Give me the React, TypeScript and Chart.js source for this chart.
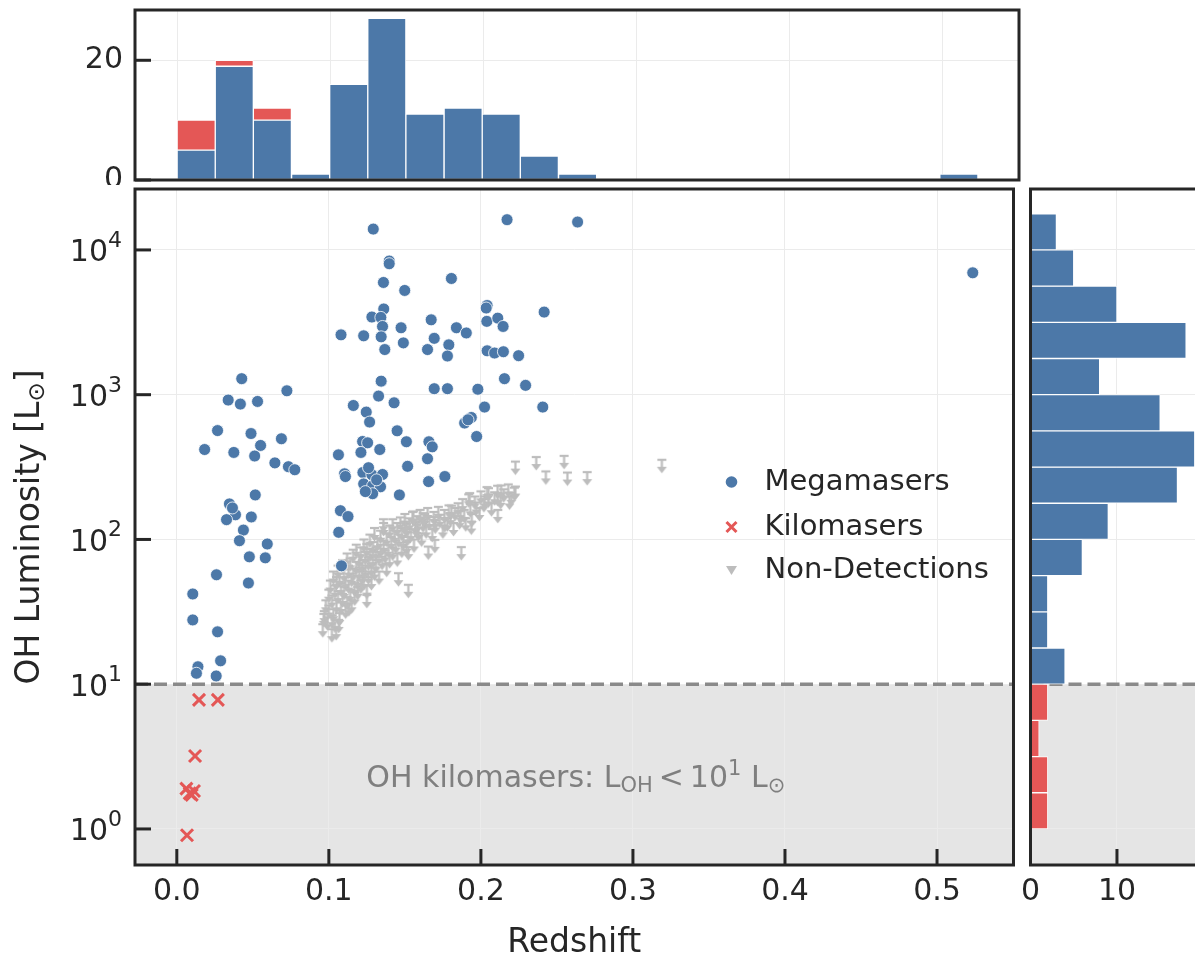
import React, { useEffect, useRef } from 'react';
import { Chart, registerables } from 'chart.js';

Chart.register(...registerables);

// ---------- style constants ----------
const FONT = '"DejaVu Sans", "Noto Sans", sans-serif';
const INK = '#262626';
const BLUE = '#4c78a8';
const RED = '#e45756';
const GRAY = '#bdbdbd';
const GRID = '#ebebeb';
const SHADE = '#e5e5e5';
const DASH = '#8a8a8a';
const NOTE = '#7f7f7f';

// ---------- axis ranges / ticks ----------
const Z_MIN = -0.0275;
const Z_MAX = 0.5503;
const L_MIN = 0.5636;
const L_MAX = 26360;
const LOG_MIN = -0.249;
const LOG_MAX = 4.421;
const TOP_MAX = 28.4;
const RIGHT_MAX = 19.95;
const KILO_LIMIT = 10;
const KILO_LIMIT_LOG = 1;

const lumTicks = [1, 10, 100, 1000, 10000];
const lumTickBase = '10';
const lumTickExps = ['0', '1', '2', '3', '4'];
const logGridTicks = [0, 1, 2, 3, 4];
const topCountTicks = [0, 20];
const rightCountTicks = [0, 10];

const legendLabels = ['Megamasers', 'Kilomasers', 'Non-Detections'];
const ANNOT_Z = 0.2624;
const ANNOT_L = 1.95;

// ---------- scatter data ----------
const megaZ = [
  0.1292, 0.2172, 0.2636, 0.1397, 0.1397, 0.1359, 0.1806, 0.1499, 0.2041, 0.2035,
  0.2416, 0.1361, 0.1283, 0.1342, 0.1353, 0.1475, 0.1673, 0.2039, 0.2111, 0.2146,
  0.1080, 0.1229, 0.1344, 0.1839, 0.1904, 0.1693, 0.1490, 0.1368, 0.1649, 0.1789,
  0.1780, 0.2041, 0.2090, 0.2148, 0.2248, 0.2155, 0.2294, 0.1344, 0.1693, 0.1780,
  0.1980, 0.1327, 0.1429, 0.1161, 0.2024, 0.2407, 0.1246, 0.1268, 0.1937, 0.1893,
  0.1915, 0.1972, 0.1449, 0.1510, 0.1222, 0.1255, 0.1658, 0.1680, 0.1649, 0.1063,
  0.1211, 0.1335, 0.1518, 0.1103, 0.1109, 0.1224, 0.1283, 0.1353, 0.1656, 0.1763,
  0.1229, 0.1288, 0.1340, 0.1288, 0.1240, 0.1464, 0.1314, 0.1261, 0.1076, 0.1126,
  0.1065, 0.1083, 0.5235, 0.0427, 0.0338, 0.0418, 0.0531, 0.0724, 0.0268, 0.0488,
  0.0688, 0.0183, 0.0375, 0.0551, 0.0512, 0.0645, 0.0734, 0.0776, 0.0516, 0.0346,
  0.0386, 0.0327, 0.0490, 0.0438, 0.0595, 0.0477, 0.0582, 0.0261, 0.0471, 0.0105,
  0.0105, 0.0268, 0.0139, 0.0129, 0.0288, 0.0259, 0.0366, 0.0412,
];
const megaL = [
  13930, 16180, 15590, 8380, 8030, 5960, 6350, 5250, 4130, 3970,
  3720, 3910, 3440, 3420, 2960, 2900, 3290, 3210, 3380, 2960,
  2590, 2550, 2510, 2900, 2670, 2450, 2280, 2050, 2050, 2210,
  1850, 2010, 1940, 1980, 1860, 1290, 1160, 1240, 1100, 1100,
  1090, 978, 879, 842, 821, 821, 758, 647, 696, 637,
  671, 514, 563, 473, 475, 465, 473, 436, 361, 384,
  399, 418, 320, 284, 272, 290, 280, 281, 251, 272,
  242, 235, 231, 207, 214, 203, 258, 313, 158, 144,
  112, 65.7, 6950, 1290, 918, 861, 898, 1064, 565, 539,
  496, 418, 399, 446, 377, 338, 318, 303, 203, 176,
  148, 137, 143, 116, 93, 75.8, 74.6, 57, 50, 42,
  27.8, 23, 13.2, 11.9, 14.5, 11.4, 165, 98,
];

const kiloZ = [0.0146, 0.0270, 0.0120, 0.0063, 0.0113, 0.0085, 0.0098, 0.0067];
const kiloL = [7.79, 7.79, 3.19, 1.90, 1.83, 1.76, 1.72, 0.905];

const ndZ = [
  0.096, 0.097, 0.098, 0.099, 0.100, 0.100, 0.101, 0.102, 0.102, 0.103,
  0.103, 0.104, 0.104, 0.105, 0.105, 0.106, 0.106, 0.107, 0.107, 0.108,
  0.108, 0.109, 0.109, 0.110, 0.110, 0.111, 0.111, 0.112, 0.112, 0.113,
  0.113, 0.114, 0.114, 0.115, 0.115, 0.116, 0.116, 0.117, 0.117, 0.118,
  0.118, 0.119, 0.119, 0.120, 0.120, 0.121, 0.121, 0.122, 0.122, 0.123,
  0.123, 0.124, 0.124, 0.125, 0.125, 0.126, 0.126, 0.127, 0.127, 0.128,
  0.128, 0.129, 0.129, 0.130, 0.130, 0.131, 0.131, 0.132, 0.133, 0.133,
  0.134, 0.134, 0.135, 0.136, 0.136, 0.137, 0.138, 0.138, 0.139, 0.140,
  0.140, 0.141, 0.142, 0.142, 0.143, 0.144, 0.145, 0.145, 0.146, 0.147,
  0.148, 0.148, 0.149, 0.150, 0.151, 0.151, 0.152, 0.153, 0.154, 0.155,
  0.156, 0.157, 0.158, 0.159, 0.160, 0.161, 0.162, 0.163, 0.164, 0.165,
  0.166, 0.168, 0.169, 0.170, 0.172, 0.173, 0.175, 0.176, 0.178, 0.179,
  0.180, 0.182, 0.183, 0.185, 0.186, 0.188, 0.189, 0.190, 0.192, 0.193,
  0.194, 0.196, 0.197, 0.199, 0.200, 0.202, 0.204, 0.205, 0.207, 0.209,
  0.211, 0.213, 0.215, 0.218, 0.220, 0.222, 0.0967, 0.1022, 0.1065, 0.1048,
  0.1131, 0.1250, 0.1458, 0.1523, 0.1654, 0.1697, 0.1523, 0.1871, 0.2111, 0.1937,
  0.1763, 0.1867, 0.1806, 0.2024, 0.1926, 0.2111, 0.2188, 0.2050, 0.2133, 0.2227,
  0.1359, 0.1501, 0.1577, 0.1556, 0.1621, 0.1697, 0.2227, 0.2364, 0.2427, 0.2547,
  0.2569, 0.2699, 0.3190,
];
const ndL = [
  26, 32, 38, 29, 45, 35, 52, 24, 41, 60,
  33, 48, 28, 38, 55, 66, 44, 31, 58, 50,
  37, 72, 42, 62, 47, 35, 55, 80, 40, 66,
  52, 45, 74, 58, 38, 85, 63, 50, 43, 70,
  92, 56, 47, 78, 64, 52, 88, 60, 72, 100,
  55, 82, 66, 48, 93, 75, 60, 108, 86, 68,
  55, 96, 78, 120, 64, 88, 72, 102, 82, 60,
  115, 92, 76, 130, 98, 84, 110, 68, 92, 125,
  78, 104, 138, 88, 115, 98, 130, 80, 108, 142,
  120, 92, 104, 150, 128, 96, 112, 140, 118, 155,
  100, 132, 145, 120, 160, 110, 138, 150, 125, 165,
  143, 118, 155, 135, 168, 148, 125, 160, 140, 172,
  152, 130, 165, 178, 145, 190, 160, 140, 205, 175,
  150, 198, 180, 165, 215, 190, 230, 205, 178, 212,
  235, 200, 222, 240, 210, 228, 30.6, 30, 27.8, 24.8,
  36.3, 41.4, 58.5, 48.6, 89.3, 99.4, 88.5, 88.5, 160, 133,
  138, 158, 171, 198, 209, 209, 198, 226, 236, 232,
  138, 133, 126, 156, 152, 143, 345, 371, 295, 378,
  290, 292, 355,
];

// ---------- histogram data ----------
const zBinCenters = [
  0.0125, 0.0374, 0.0623, 0.0873, 0.1122, 0.1371, 0.1620, 0.1870, 0.2119, 0.2368,
  0.2618, 0.2867, 0.3116, 0.3365, 0.3615, 0.3864, 0.4113, 0.4363, 0.4612, 0.4861, 0.5110,
];
const topMegaCounts = [5, 19, 10, 1, 16, 27, 11, 12, 11, 4, 1, 0, 0, 0, 0, 0, 0, 0, 0, 0, 1];
const topKiloCounts = [5, 1, 2, 0, 0, 0, 0, 0, 0, 0, 0, 0, 0, 0, 0, 0, 0, 0, 0, 0, 0];

const logLBinCenters = [
  0.125, 0.375, 0.625, 0.875, 1.125, 1.375, 1.625, 1.875, 2.125,
  2.375, 2.625, 2.875, 3.125, 3.375, 3.625, 3.875, 4.125,
];
const rightMegaCounts = [0, 0, 0, 0, 4, 2, 2, 6, 9, 17, 19, 15, 8, 18, 10, 5, 3];
const rightKiloCounts = [2, 2, 1, 2, 0, 0, 0, 0, 0, 0, 0, 0, 0, 0, 0, 0, 0];

// ---------- helpers ----------
function fixSize(prop: 'width' | 'height', v: number) {
  return (s: any) => {
    s[prop] = v;
    s.paddingLeft = 0;
    s.paddingRight = 0;
    s.paddingTop = 0;
    s.paddingBottom = 0;
  };
}

function fixedTicks(values: number[]) {
  return (s: any) => {
    s.ticks = values.map((v) => ({ value: v }));
  };
}

// ---------- plugins ----------
const framePlugin = {
  id: 'frame',
  afterDraw(chart: any) {
    const { ctx, chartArea: a } = chart;
    ctx.save();
    ctx.strokeStyle = INK;
    ctx.lineWidth = 3;
    ctx.strokeRect(a.left, a.top, a.right - a.left, a.bottom - a.top);
    ctx.restore();
  },
};

const inTicksPlugin = {
  id: 'inTicks',
  afterDraw(chart: any, _args: any, opts: any) {
    const { ctx, chartArea: a } = chart;
    ctx.save();
    ctx.strokeStyle = INK;
    ctx.lineWidth = 3;
    const axes: string[] = opts && opts.axes ? opts.axes : [];
    for (const id of axes) {
      const s = chart.scales[id];
      for (const t of s.ticks) {
        const p = s.getPixelForValue(t.value);
        ctx.beginPath();
        if (s.isHorizontal()) {
          ctx.moveTo(p, a.bottom);
          ctx.lineTo(p, a.bottom - 16);
        } else {
          ctx.moveTo(a.left, p);
          ctx.lineTo(a.left + 16, p);
        }
        ctx.stroke();
      }
    }
    ctx.restore();
  },
};

const shadePlugin = {
  id: 'kiloShade',
  beforeDraw(chart: any, _args: any, opts: any) {
    const { ctx, chartArea: a } = chart;
    const y = chart.scales.y.getPixelForValue(opts.value);
    ctx.save();
    ctx.fillStyle = SHADE;
    ctx.fillRect(a.left, y, a.right - a.left, a.bottom - y);
    ctx.restore();
  },
  beforeDatasetsDraw(chart: any, _args: any, opts: any) {
    const { ctx, chartArea: a } = chart;
    const y = chart.scales.y.getPixelForValue(opts.value);
    ctx.save();
    ctx.strokeStyle = DASH;
    ctx.lineWidth = 3.5;
    ctx.setLineDash([13, 6]);
    ctx.beginPath();
    ctx.moveTo(a.left, y);
    ctx.lineTo(a.right, y);
    ctx.stroke();
    ctx.restore();
  },
};

type Seg = { t: string; s: number; dy: number };

function drawSegments(ctx: CanvasRenderingContext2D, segs: Seg[], xStart: number, baseY: number) {
  let x = xStart;
  for (const sg of segs) {
    ctx.font = `${sg.s}px ${FONT}`;
    ctx.fillText(sg.t, x, baseY + sg.dy);
    x += ctx.measureText(sg.t).width;
  }
}
function segWidth(ctx: CanvasRenderingContext2D, segs: Seg[]) {
  let w = 0;
  for (const sg of segs) {
    ctx.font = `${sg.s}px ${FONT}`;
    w += ctx.measureText(sg.t).width;
  }
  return w;
}

// y tick labels of the log axis, drawn as 10 with a raised exponent
const expLabelsPlugin = {
  id: 'expLabels',
  afterDraw(chart: any) {
    const { ctx, chartArea: a } = chart;
    const s = chart.scales.y;
    ctx.save();
    ctx.fillStyle = INK;
    ctx.textAlign = 'left';
    ctx.textBaseline = 'alphabetic';
    s.ticks.forEach((t: any, i: number) => {
      const y = s.getPixelForValue(t.value);
      const segs: Seg[] = [
        { t: lumTickBase, s: 30, dy: 0 },
        { t: lumTickExps[i], s: 22, dy: -14.5 },
      ];
      const w = segWidth(ctx, segs) + 1;
      drawSegments(ctx, segs, a.left - 12 - w, y + 11.5);
    });
    ctx.restore();
  },
};

const mainDecorPlugin = {
  id: 'mainDecor',
  afterDatasetsDraw(chart: any) {
    const { ctx, chartArea: a, scales } = chart;
    ctx.save();
    // annotation in kilomaser band
    const segs: Seg[] = [
      { t: 'OH kilomasers: L', s: 30, dy: 0 },
      { t: 'OH', s: 21, dy: 5 },
      { t: '\u2009<\u200910', s: 30, dy: 0 },
      { t: '1', s: 21, dy: -12 },
      { t: ' L', s: 30, dy: 0 },
      { t: '\u2299', s: 21, dy: 5 },
    ];
    ctx.fillStyle = NOTE;
    ctx.textBaseline = 'alphabetic';
    ctx.textAlign = 'left';
    const w = segWidth(ctx, segs);
    const cx = scales.x.getPixelForValue(ANNOT_Z);
    const by = scales.y.getPixelForValue(ANNOT_L);
    drawSegments(ctx, segs, cx - w / 2, by);

    // legend
    const mx = a.right - 282;
    const tx = a.right - 249;
    const cy = (a.top + a.bottom) / 2;
    const rows = [cy - 45, cy, cy + 43];
    ctx.fillStyle = BLUE;
    ctx.beginPath();
    ctx.arc(mx, rows[0], 5.8, 0, Math.PI * 2);
    ctx.fill();
    ctx.strokeStyle = RED;
    ctx.lineWidth = 3;
    ctx.beginPath();
    ctx.moveTo(mx - 5, rows[1] - 5);
    ctx.lineTo(mx + 5, rows[1] + 5);
    ctx.moveTo(mx - 5, rows[1] + 5);
    ctx.lineTo(mx + 5, rows[1] - 5);
    ctx.stroke();
    ctx.fillStyle = GRAY;
    ctx.beginPath();
    ctx.moveTo(mx - 5.5, rows[2] - 4);
    ctx.lineTo(mx + 5.5, rows[2] - 4);
    ctx.lineTo(mx, rows[2] + 5);
    ctx.closePath();
    ctx.fill();
    ctx.fillStyle = INK;
    ctx.font = `29px ${FONT}`;
    ctx.textBaseline = 'middle';
    legendLabels.forEach((lab, i) => ctx.fillText(lab, tx, rows[i]));
    ctx.restore();
  },
  afterDraw(chart: any) {
    const { ctx, chartArea: a } = chart;
    ctx.save();
    ctx.fillStyle = INK;
    ctx.font = `33px ${FONT}`;
    ctx.textAlign = 'center';
    ctx.textBaseline = 'alphabetic';
    ctx.fillText('Redshift', (a.left + a.right) / 2, 952);
    const segs: Seg[] = [
      { t: 'OH Luminosity [L', s: 33, dy: 0 },
      { t: '\u2299', s: 23, dy: 5 },
      { t: ']', s: 33, dy: 0 },
    ];
    ctx.textAlign = 'left';
    const w = segWidth(ctx, segs);
    ctx.translate(39, (a.top + a.bottom) / 2);
    ctx.rotate(-Math.PI / 2);
    drawSegments(ctx, segs, -w / 2, 0);
    ctx.restore();
  },
};

function makeArrow(): HTMLCanvasElement {
  const c = document.createElement('canvas');
  c.width = 13;
  c.height = 34;
  const g = c.getContext('2d')!;
  g.strokeStyle = GRAY;
  g.fillStyle = GRAY;
  g.lineWidth = 2.2;
  g.beginPath();
  g.moveTo(2, 17);
  g.lineTo(11, 17);
  g.stroke();
  g.beginPath();
  g.moveTo(6.5, 17);
  g.lineTo(6.5, 26);
  g.stroke();
  g.beginPath();
  g.moveTo(1.5, 24);
  g.lineTo(11.5, 24);
  g.lineTo(6.5, 30.5);
  g.closePath();
  g.fill();
  return c;
}

const tickFont = { family: FONT, size: 30 };
const barStyle = {
  borderColor: 'rgba(255,255,255,0.85)',
  borderWidth: 1,
  borderSkipped: false,
  barPercentage: 1,
  categoryPercentage: 1,
};

function topConfig(): any {
  return {
    type: 'bar',
    data: {
      datasets: [
        { label: 'Megamasers', data: zBinCenters.map((c, i) => ({ x: c, y: topMegaCounts[i] })), backgroundColor: BLUE, ...barStyle },
        { label: 'Kilomasers', data: zBinCenters.map((c, i) => ({ x: c, y: topKiloCounts[i] })), backgroundColor: RED, ...barStyle },
      ],
    },
    options: {
      responsive: false,
      animation: false,
      devicePixelRatio: 1,
      events: [],
      layout: { padding: { top: 10, right: 6, left: 0, bottom: 0 } },
      plugins: { legend: { display: false }, tooltip: { enabled: false }, inTicks: { axes: ['y'] } },
      scales: {
        x: {
          type: 'linear',
          min: Z_MIN,
          max: Z_MAX,
          stacked: true,
          offset: false,
          ticks: { display: false, stepSize: 0.1, includeBounds: false },
          grid: { color: GRID, drawTicks: false, offset: false },
          border: { display: false },
          afterFit: fixSize('height', 5),
        },
        y: {
          type: 'linear',
          min: 0,
          max: TOP_MAX,
          stacked: true,
          afterBuildTicks: fixedTicks(topCountTicks),
          ticks: { font: tickFont, color: INK, padding: 12 },
          grid: { color: GRID, drawTicks: false },
          border: { display: false },
          afterFit: fixSize('width', 135),
        },
      },
    },
    plugins: [framePlugin, inTicksPlugin],
  };
}

function mainConfig(arrow: HTMLCanvasElement): any {
  return {
    type: 'scatter',
    data: {
      datasets: [
        {
          label: legendLabels[0],
          data: megaZ.map((z, i) => ({ x: z, y: megaL[i] })),
          pointStyle: 'circle',
          pointRadius: 6,
          backgroundColor: BLUE,
          borderColor: '#ffffff',
          borderWidth: 0.8,
        },
        {
          label: legendLabels[1],
          data: kiloZ.map((z, i) => ({ x: z, y: kiloL[i] })),
          pointStyle: 'crossRot',
          pointRadius: 8.5,
          backgroundColor: RED,
          borderColor: RED,
          borderWidth: 3,
        },
        {
          label: legendLabels[2],
          data: ndZ.map((z, i) => ({ x: z, y: ndL[i] })),
          pointStyle: arrow,
          pointRadius: 6,
        },
      ],
    },
    options: {
      responsive: false,
      animation: false,
      devicePixelRatio: 1,
      events: [],
      layout: { padding: { top: 189, right: 6, left: 0, bottom: 0 } },
      plugins: {
        legend: { display: false },
        tooltip: { enabled: false },
        inTicks: { axes: ['x', 'y'] },
        kiloShade: { value: KILO_LIMIT },
      },
      scales: {
        x: {
          type: 'linear',
          min: Z_MIN,
          max: Z_MAX,
          ticks: {
            stepSize: 0.1,
            includeBounds: false,
            font: tickFont,
            color: INK,
            padding: 9,
            maxRotation: 0,
            autoSkip: false,
            callback: (v: any) => Number(v).toFixed(1),
          },
          grid: { color: GRID, drawTicks: false },
          border: { display: false },
          afterFit: fixSize('height', 90),
        },
        y: {
          type: 'logarithmic',
          min: L_MIN,
          max: L_MAX,
          afterBuildTicks: fixedTicks(lumTicks),
          ticks: { display: false },
          grid: { color: GRID, drawTicks: false },
          border: { display: false },
          afterFit: fixSize('width', 135),
        },
      },
    },
    plugins: [shadePlugin, framePlugin, inTicksPlugin, expLabelsPlugin, mainDecorPlugin],
  };
}

function rightConfig(): any {
  return {
    type: 'bar',
    data: {
      datasets: [
        { label: 'Megamasers', data: logLBinCenters.map((c, i) => ({ y: c, x: rightMegaCounts[i] })), backgroundColor: BLUE, ...barStyle },
        { label: 'Kilomasers', data: logLBinCenters.map((c, i) => ({ y: c, x: rightKiloCounts[i] })), backgroundColor: RED, ...barStyle },
      ],
    },
    options: {
      indexAxis: 'y',
      responsive: false,
      animation: false,
      devicePixelRatio: 1,
      events: [],
      layout: { padding: { top: 189, right: 19, left: 0, bottom: 0 } },
      plugins: {
        legend: { display: false },
        tooltip: { enabled: false },
        inTicks: { axes: ['x'] },
        kiloShade: { value: KILO_LIMIT_LOG },
      },
      scales: {
        x: {
          type: 'linear',
          min: 0,
          max: RIGHT_MAX,
          stacked: true,
          afterBuildTicks: fixedTicks(rightCountTicks),
          ticks: { font: tickFont, color: INK, padding: 9, maxRotation: 0, autoSkip: false },
          grid: { color: GRID, drawTicks: false },
          border: { display: false },
          afterFit: fixSize('height', 90),
        },
        y: {
          type: 'linear',
          min: LOG_MIN,
          max: LOG_MAX,
          stacked: true,
          offset: false,
          afterBuildTicks: fixedTicks(logGridTicks),
          ticks: { display: false },
          grid: { color: GRID, drawTicks: false, offset: false },
          border: { display: false },
          afterFit: fixSize('width', 8.5),
        },
      },
    },
    plugins: [shadePlugin, framePlugin, inTicksPlugin],
  };
}

export default function App() {
  const topRef = useRef<HTMLCanvasElement | null>(null);
  const mainRef = useRef<HTMLCanvasElement | null>(null);
  const rightRef = useRef<HTMLCanvasElement | null>(null);

  useEffect(() => {
    Chart.defaults.font.family = FONT;
    const arrow = makeArrow();
    const charts: Chart[] = [];
    if (mainRef.current) charts.push(new Chart(mainRef.current, mainConfig(arrow)));
    if (topRef.current) charts.push(new Chart(topRef.current, topConfig()));
    if (rightRef.current) charts.push(new Chart(rightRef.current, rightConfig()));
    return () => charts.forEach((c) => c.destroy());
  }, []);

  return (
    <div
      style={{
        position: 'absolute',
        left: 0,
        top: 0,
        width: 1195,
        height: 955,
        overflow: 'hidden',
        background: '#ffffff',
      }}
    >
      <canvas ref={mainRef} width={1025} height={955} style={{ position: 'absolute', left: 0, top: 0, width: 1025, height: 955 }} />
      <canvas ref={topRef} width={1025} height={185} style={{ position: 'absolute', left: 0, top: 0, width: 1025, height: 185 }} />
      <canvas ref={rightRef} width={200} height={955} style={{ position: 'absolute', left: 1022, top: 0, width: 200, height: 955 }} />
    </div>
  );
}
